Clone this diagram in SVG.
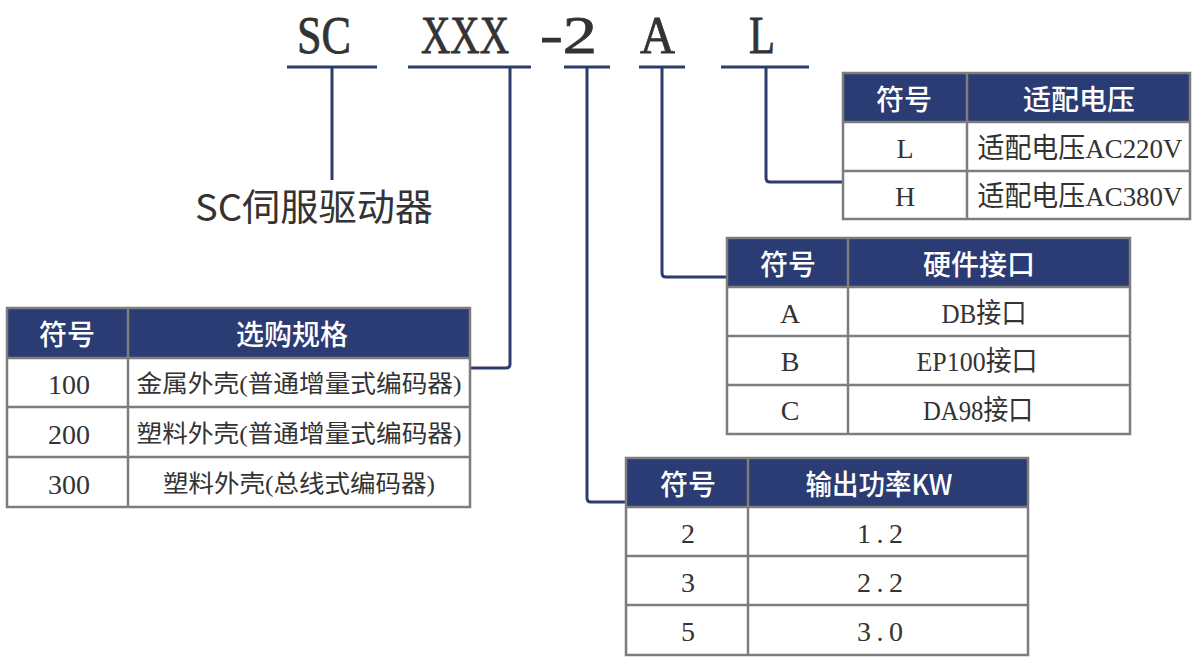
<svg xmlns="http://www.w3.org/2000/svg" width="1196" height="670" viewBox="0 0 1196 670">
<style>
.bg{fill:#ffffff}
.code{font-family:"Liberation Serif","DejaVu Serif",serif;font-size:52px;fill:#333333;stroke:#333333;stroke-width:0.8}
.ul{stroke:#2d3c6c;stroke-width:3;fill:none}
.conn{stroke:#2d3c6c;stroke-width:3;fill:none;stroke-linejoin:round}
.hdr{fill:#2b3b73}
.cell{fill:#ffffff}
.grid{stroke:#7d7d7d;stroke-width:2.5;fill:none}
.ht{font-family:"Noto Sans CJK SC","Noto Sans",sans-serif;font-size:28px;font-weight:500;fill:#ffffff;text-anchor:middle;dominant-baseline:central}
.bt{font-family:"Liberation Serif","Noto Sans CJK SC",serif;font-size:28px;fill:#333333;text-anchor:middle;dominant-baseline:central}
.bc{font-family:"Liberation Serif","Noto Sans CJK SC",sans-serif;font-size:24px;fill:#333333;text-anchor:middle;dominant-baseline:central}
.title{font-family:"Noto Sans CJK SC","Noto Sans",sans-serif;font-size:37px;fill:#333333}
</style>
<rect class="bg" x="0" y="0" width="1196" height="670"/>

<g id="code-labels">
  <text class="code" x="297" y="53" textLength="54" lengthAdjust="spacingAndGlyphs">SC</text>
  <text class="code" x="421" y="53" textLength="88" lengthAdjust="spacingAndGlyphs">XXX</text>
  <text class="code" x="540" y="53" textLength="57" lengthAdjust="spacingAndGlyphs">-2</text>
  <text class="code" x="640" y="53" textLength="35" lengthAdjust="spacingAndGlyphs">A</text>
  <text class="code" x="749" y="53" textLength="26" lengthAdjust="spacingAndGlyphs">L</text>
</g>

<g id="connectors">
  <line class="ul" x1="287" y1="67" x2="377" y2="67"/>
  <line class="ul" x1="408" y1="67" x2="531" y2="67"/>
  <line class="ul" x1="564" y1="67" x2="610" y2="67"/>
  <line class="ul" x1="639" y1="67" x2="685" y2="67"/>
  <line class="ul" x1="721" y1="67" x2="809" y2="67"/>
  <line class="conn" x1="332" y1="67" x2="332" y2="180"/>
  <path class="conn" d="M510,67 V364 Q510,368 506,368 H470"/>
  <path class="conn" d="M587,67 V498 Q587,502 591,502 H626"/>
  <path class="conn" d="M662,67 V273 Q662,277 666,277 H727"/>
  <path class="conn" d="M766,67 V178 Q766,182 770,182 H843"/>
</g>

<g id="product-name">
  <text class="title" x="195" y="221" textLength="238" lengthAdjust="spacingAndGlyphs">SC伺服驱动器</text>
</g>

<g id="table-spec">
  <rect class="cell" x="7" y="308" width="463" height="199"/>
  <rect class="hdr" x="7" y="308" width="463" height="50"/>
  <rect class="grid" x="7" y="308" width="463" height="199"/>
  <line class="grid" x1="7" y1="358" x2="470" y2="358"/>
  <line class="grid" x1="7" y1="407" x2="470" y2="407"/>
  <line class="grid" x1="7" y1="457" x2="470" y2="457"/>
  <line class="grid" x1="128" y1="308" x2="128" y2="507"/>
  <text class="ht" x="67" y="333">符号</text>
  <text class="ht" x="292" y="333">选购规格</text>
  <text class="bt" x="69" y="384">100</text>
  <text class="bt" x="69" y="434">200</text>
  <text class="bt" x="69" y="484">300</text>
  <text class="bc" x="299" y="384" textLength="325" lengthAdjust="spacingAndGlyphs">金属外壳(普通增量式编码器)</text>
  <text class="bc" x="299" y="434" textLength="325" lengthAdjust="spacingAndGlyphs">塑料外壳(普通增量式编码器)</text>
  <text class="bc" x="299" y="484" textLength="272" lengthAdjust="spacingAndGlyphs">塑料外壳(总线式编码器)</text>
</g>

<g id="table-voltage">
  <rect class="cell" x="843" y="73" width="347" height="146"/>
  <rect class="hdr" x="843" y="73" width="347" height="49"/>
  <rect class="grid" x="843" y="73" width="347" height="146"/>
  <line class="grid" x1="843" y1="122" x2="1190" y2="122"/>
  <line class="grid" x1="843" y1="171" x2="1190" y2="171"/>
  <line class="grid" x1="967" y1="73" x2="967" y2="219"/>
  <text class="ht" x="904" y="98">符号</text>
  <text class="ht" x="1079" y="98">适配电压</text>
  <text class="bt" x="905" y="148">L</text>
  <text class="bt" x="905" y="196">H</text>
  <text class="bt" x="1080" y="148" textLength="205" lengthAdjust="spacingAndGlyphs">适配电压AC220V</text>
  <text class="bt" x="1080" y="196" textLength="205" lengthAdjust="spacingAndGlyphs">适配电压AC380V</text>
</g>

<g id="table-interface">
  <rect class="cell" x="727" y="238" width="403" height="196"/>
  <rect class="hdr" x="727" y="238" width="403" height="49"/>
  <rect class="grid" x="727" y="238" width="403" height="196"/>
  <line class="grid" x1="727" y1="287" x2="1130" y2="287"/>
  <line class="grid" x1="727" y1="336" x2="1130" y2="336"/>
  <line class="grid" x1="727" y1="385" x2="1130" y2="385"/>
  <line class="grid" x1="848" y1="238" x2="848" y2="434"/>
  <text class="ht" x="788" y="263">符号</text>
  <text class="ht" x="979" y="263">硬件接口</text>
  <text class="bt" x="790" y="313">A</text>
  <text class="bt" x="790" y="361">B</text>
  <text class="bt" x="790" y="410">C</text>
  <text class="bt" x="984" y="313" textLength="85" lengthAdjust="spacingAndGlyphs">DB接口</text>
  <text class="bt" x="977" y="361" textLength="121" lengthAdjust="spacingAndGlyphs">EP100接口</text>
  <text class="bt" x="978" y="410" textLength="110" lengthAdjust="spacingAndGlyphs">DA98接口</text>
</g>

<g id="table-power">
  <rect class="cell" x="626" y="458" width="402" height="197"/>
  <rect class="hdr" x="626" y="458" width="402" height="49"/>
  <rect class="grid" x="626" y="458" width="402" height="197"/>
  <line class="grid" x1="626" y1="507" x2="1028" y2="507"/>
  <line class="grid" x1="626" y1="556" x2="1028" y2="556"/>
  <line class="grid" x1="626" y1="605" x2="1028" y2="605"/>
  <line class="grid" x1="748" y1="458" x2="748" y2="655"/>
  <text class="ht" x="688" y="483">符号</text>
  <text class="ht" x="879" y="483" textLength="147" lengthAdjust="spacingAndGlyphs">输出功率KW</text>
  <text class="bt" x="688" y="533">2</text>
  <text class="bt" x="688" y="582">3</text>
  <text class="bt" x="688" y="631">5</text>
  <text class="bt" x="880" y="533" textLength="46" lengthAdjust="spacing">1.2</text>
  <text class="bt" x="880" y="582" textLength="46" lengthAdjust="spacing">2.2</text>
  <text class="bt" x="880" y="631" textLength="46" lengthAdjust="spacing">3.0</text>
</g>
</svg>
